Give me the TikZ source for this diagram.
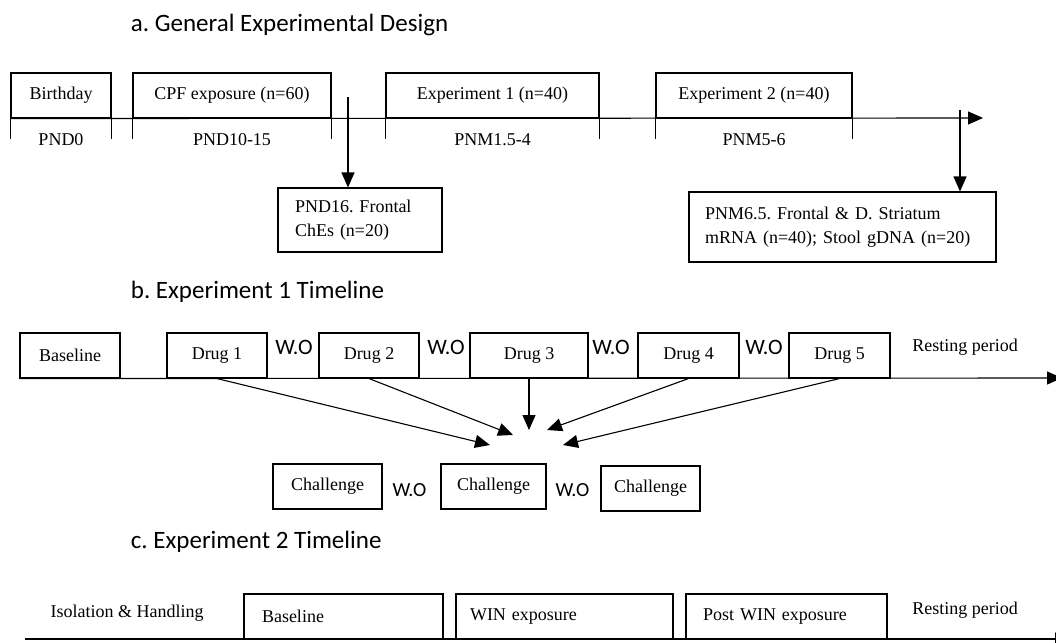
\documentclass[tikz,border=0pt]{standalone}
\usepackage{fontspec}
\setmainfont{Liberation Serif}
\newfontfamily\headfont{Carlito}
\usepackage{tikz}
\usetikzlibrary{arrows.meta,positioning}
\frenchspacing

\begin{document}
\begin{tikzpicture}[x=1pt,y=-1pt,line width=1.1pt,
		font=\fontsize{18}{24}\selectfont,
		box/.style={draw,rectangle,inner sep=0pt,minimum height=45pt},
		lbox/.style={box,align=left,text width=#1},
		heading/.style={anchor=west,font=\headfont\fontsize{25}{28}\selectfont},
		wo/.style={font=\headfont\fontsize{#1}{24}\selectfont},
		tip/.style={-{Triangle[length=15pt,width=13pt]}}]
	\useasboundingbox (0,0) rectangle (1056,642);
	% a
	\node[heading] (ha) at (127,25) {a. General Experimental Design};
	\node[box,minimum width=100pt] (bday) at (61,95.5) {Birthday};
	\node[box,minimum width=198pt] (cpf) at (232,95.5) {CPF exposure (n=60)};
	\node[box,minimum width=213pt] (exa) at (492.5,95.5) {Experiment 1 (n=40)};
	\node[box,minimum width=196pt] (exb) at (754,95.5) {Experiment 2 (n=40)};
	\foreach \b in {bday,cpf,exa,exb}{
		\draw (\b.south west) -- ++(0,20);
		\draw (\b.south east) -- ++(0,20);
	}
	\node (pa) at (61,140) {PND0};
	\node (pb) at (232,140) {PND10-15};
	\node (pc) at (492.5,140) {PNM1.5-4};
	\node (pd) at (754,140) {PNM5-6};
	\coordinate (aend) at (983,118);
	\draw[tip] (bday.south west) -- (aend);
	\node[box,minimum width=164pt,minimum height=64pt,align=left,text width=130pt] (che) at (360,220)
		{PND16. Frontal\\ChEs (n=20)};
	\node[box,minimum width=307pt,minimum height=70pt,align=left,text width=275pt] (mrna) at (842.5,227)
		{PNM6.5. Frontal \& D. Striatum\\mRNA (n=40); Stool gDNA (n=20)};
	\coordinate (sa) at (348,97);
	\coordinate (sb) at (960,110);
	\draw[tip] (sa) -- (che.north -| sa);
	\draw[tip] (sb) -- (mrna.north -| sb);
	% b
	\node[heading] (hb) at (127,292) {b. Experiment 1 Timeline};
	\node[box,minimum width=100pt] (base) at (70,355.5) {Baseline};
	\node[box,minimum width=100pt] (da) at (217,355.5) {Drug 1};
	\node[box,minimum width=100pt] (db) at (369,355.5) {Drug 2};
	\node[box,minimum width=118pt] (dc) at (529,355.5) {Drug 3};
	\node[box,minimum width=101pt] (dd) at (688.5,355.5) {Drug 4};
	\node[box,minimum width=101pt] (de) at (839.5,355.5) {Drug 5};
	\node[wo=22] (woa) at (294,347) {W.O};
	\node[wo=22] (wob) at (446,347) {W.O};
	\node[wo=22] (woc) at (611,347) {W.O};
	\node[wo=22] (wod) at (764,347) {W.O};
	\node (rest) at (965,347) {Resting period};
	\coordinate (bend) at (1062,378);
	\draw[tip] (base.south west) -- (bend);
	\coordinate (ta) at (490,445);
	\coordinate (tb) at (513,435);
	\coordinate (tc) at (529,430);
	\coordinate (td) at (547,430);
	\coordinate (te) at (563,445);
	\draw[tip] (da.south) -- (ta);
	\draw[tip] (db.south) -- (tb);
	\draw[tip] (dc.south) -- (tc);
	\draw[tip] (dd.south) -- (td);
	\draw[tip] (de.south) -- (te);
	\node[box,minimum width=109pt] (cha) at (327.5,486.5) {Challenge};
	\node[box,minimum width=105pt] (chb) at (493.5,486.5) {Challenge};
	\node[box,minimum width=99pt] (chc) at (650.5,488.5) {Challenge};
	\node[wo=20] (woe) at (409.5,490) {W.O};
	\node[wo=20] (wof) at (572.5,490) {W.O};
	% c
	\node[heading] (hc) at (127,542) {c. Experiment 2 Timeline};
	\node (iso) at (127,613) {Isolation \& Handling};
	\node[lbox=163pt,minimum width=199pt] (basec) at (343.5,616.5) {Baseline};
	\node[lbox=189pt,minimum width=217pt] (win) at (564.5,616.5) {WIN exposure};
	\node[lbox=167pt,minimum width=201pt] (post) at (786.5,616.5) {Post WIN exposure};
	\node (restc) at (965,610) {Resting period};
	\coordinate (cstart) at (25,639);
	\coordinate (cend) at (1070,639);
	\draw[tip] (cstart) -- (cend);
\end{tikzpicture}
\end{document}
